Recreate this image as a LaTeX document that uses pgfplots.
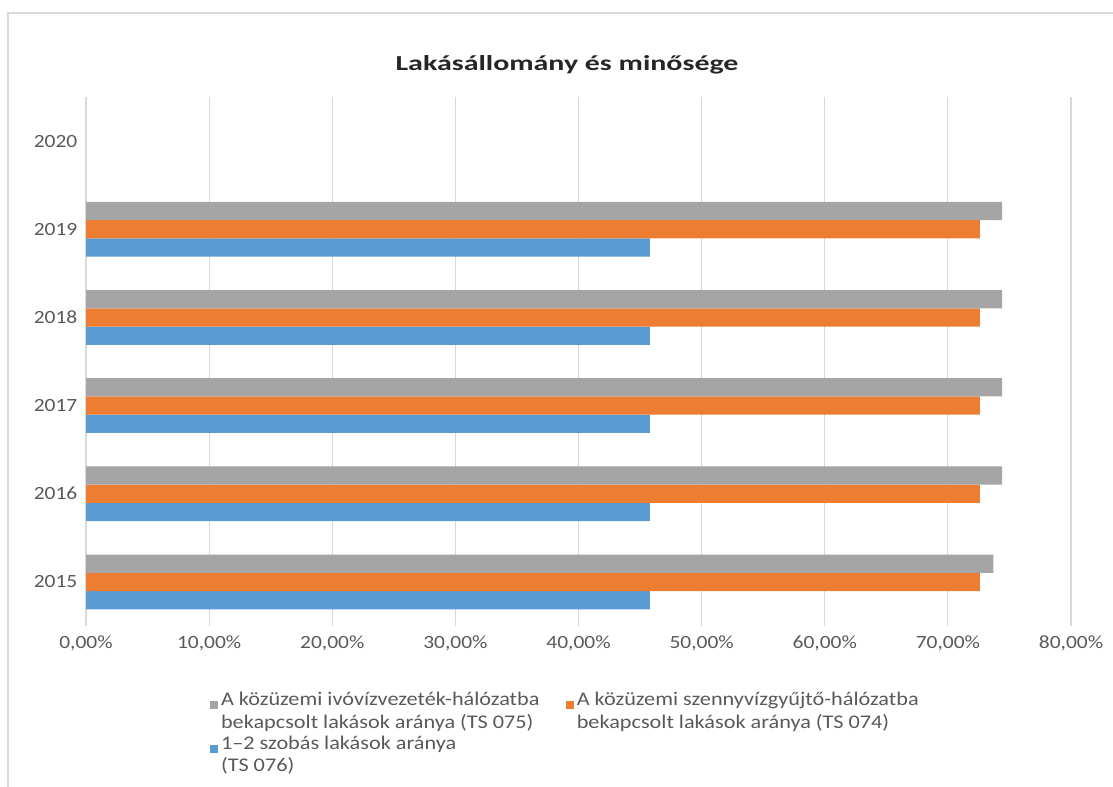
\documentclass[border=0pt]{standalone}
\usepackage{fontspec}
\setmainfont{Carlito}[FakeStretch=1.15]
\usepackage{graphicx}
\usepackage{pgfplots}
\pgfplotsset{compat=1.18}
\definecolor{cblue}{HTML}{5B9BD5}
\definecolor{corange}{HTML}{ED7D31}
\definecolor{cgray}{HTML}{A5A5A5}
\definecolor{cgrid}{HTML}{D9D9D9}
\definecolor{ctext}{HTML}{595959}
\begin{document}
\begin{tikzpicture}
\path[use as bounding box] (0pt,0pt) rectangle (834.75pt,590.25pt);
\draw[cgrid, line width=1.2pt] (6pt,0pt) -- (6pt,580.5pt) -- (834.75pt,580.5pt);
\node[anchor=base, font=\bfseries\fontsize{16}{19}\selectfont, text=black!85] at (425.25pt,537pt) {\scalebox{1.22}[1]{Lakásállomány és minősége}};
\begin{axis}[
  at={(64.5pt,120.75pt)}, anchor=south west,
  scale only axis, width=738.75pt, height=396.75pt,
  xmin=0, xmax=80, ymin=2014.5, ymax=2020.5,
  axis line style={draw=none},
  major tick length=0pt,
  xmajorgrids, grid style={cgrid, line width=0.9pt},
  xtick={0,10,...,80},
  xticklabels={{0,00\%},{10,00\%},{20,00\%},{30,00\%},{40,00\%},{50,00\%},{60,00\%},{70,00\%},{80,00\%}},
  ytick={2015,2016,2017,2018,2019,2020},
  yticklabels={2015,2016,2017,2018,2019,2020},
  ticklabel style={font=\fontsize{14}{16}\selectfont, text=ctext},
  xticklabel style={yshift=-4pt},
  yticklabel style={xshift=-3pt},
  legend columns=2,
  reverse legend,
  legend image code/.code={\fill[#1] (0pt,14.5pt) rectangle (6pt,20.5pt);},
  legend style={at={(0.126,-0.12)}, anchor=north west, draw=none, fill=none,
    inner sep=0pt, font=\fontsize{14.5}{17}\selectfont, text=ctext,
    cells={anchor=base west, align=left},
    /tikz/every even column/.append style={column sep=18pt}},
]
\addplot[xbar, fill=cblue, draw=none, bar width=0.207, bar shift=-0.207]
  coordinates {(45.8,2015) (45.8,2016) (45.8,2017) (45.8,2018) (45.8,2019)};
\addplot[xbar, fill=corange, draw=none, bar width=0.207, bar shift=0]
  coordinates {(72.6,2015) (72.6,2016) (72.6,2017) (72.6,2018) (72.6,2019)};
\addplot[xbar, fill=cgray, draw=none, bar width=0.207, bar shift=0.207]
  coordinates {(73.7,2015) (74.4,2016) (74.4,2017) (74.4,2018) (74.4,2019)};
\legend{{1--2 szobás lakások aránya\\(TS 076)},
        {A közüzemi szennyvízgyűjtő-hálózatba\\bekapcsolt lakások aránya (TS 074)},
        {A közüzemi ivóvízvezeték-hálózatba\\bekapcsolt lakások aránya (TS 075)}}
\end{axis}
\end{tikzpicture}
\end{document}
